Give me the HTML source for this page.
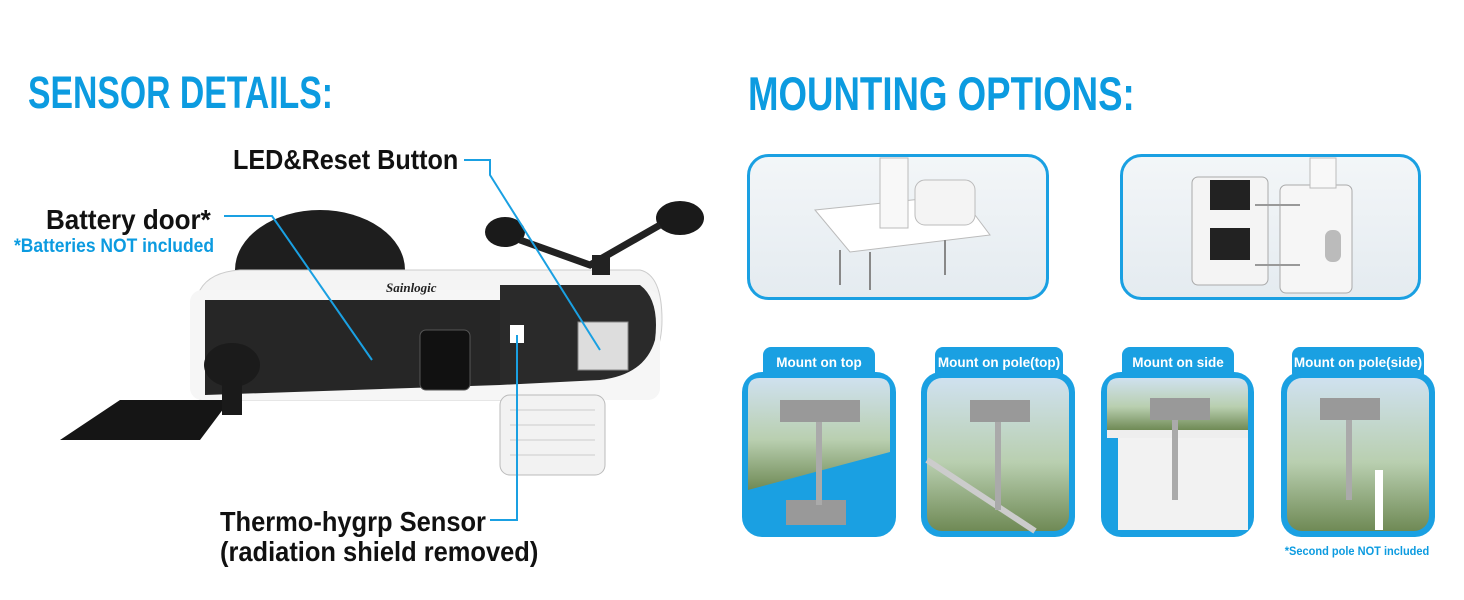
<!DOCTYPE html>
<html><head><meta charset="utf-8"><style>
html,body{margin:0;padding:0;background:#fff;}
svg{display:block;}
.h{font-family:"Liberation Sans",sans-serif;font-weight:bold;fill:#0c9be0;}
.t{font-family:"Liberation Sans",sans-serif;font-weight:bold;fill:#111;}
.w{font-family:"Liberation Sans",sans-serif;font-weight:bold;fill:#fff;}
</style></head><body>
<svg width="1464" height="600" viewBox="0 0 1464 600" xmlns="http://www.w3.org/2000/svg">
<defs>
<linearGradient id="sky" x1="0" y1="0" x2="0" y2="1">
<stop offset="0" stop-color="#cfe1ef"/><stop offset="0.55" stop-color="#b9cfb0"/><stop offset="1" stop-color="#6f8a55"/></linearGradient>
<linearGradient id="box" x1="0" y1="0" x2="0" y2="1"><stop offset="0" stop-color="#f3f6f8"/><stop offset="1" stop-color="#e4ebf0"/></linearGradient>
</defs>
<text class="h" x="28" y="108" font-size="45" transform="translate(28 0) scale(0.75 1) translate(-28 0)">SENSOR DETAILS:</text>
<text class="h" x="748" y="110" font-size="47" transform="translate(748 0) scale(0.78 1) translate(-748 0)">MOUNTING OPTIONS:</text>
<text class="t" x="233" y="169" font-size="28" transform="translate(233 0) scale(0.9 1) translate(-233 0)">LED&amp;Reset Button</text>
<text class="t" x="46" y="229" font-size="28" transform="translate(46 0) scale(0.93 1) translate(-46 0)">Battery door*</text>
<text class="h" x="14" y="252" font-size="19" transform="translate(14 0) scale(0.92 1) translate(-14 0)">*Batteries NOT included</text>
<text class="t" x="220" y="531" font-size="28" transform="translate(220 0) scale(0.91 1) translate(-220 0)">Thermo-hygrp Sensor</text>
<text class="t" x="220" y="561" font-size="28" transform="translate(220 0) scale(0.91 1) translate(-220 0)">(radiation shield removed)</text>
<!-- device -->
<ellipse cx="320" cy="270" rx="85" ry="60" fill="#1e1e1e"/>
<path d="M200 290 Q210 272 240 270 L640 270 Q662 275 662 320 Q662 370 620 380 L560 400 L200 400 Z" fill="#f4f4f4" stroke="#ccc"/>
<rect x="190" y="290" width="470" height="110" rx="12" fill="#f6f6f6"/>
<path d="M205 300 L500 300 L500 385 L205 395 Z" fill="#262626"/>
<path d="M500 285 L640 285 Q660 300 655 340 Q645 375 600 380 L500 385 Z" fill="#2a2a2a"/>
<text x="386" y="292" font-family="Liberation Serif,serif" font-style="italic" font-weight="bold" font-size="13" fill="#222">Sainlogic</text>
<rect x="420" y="330" width="50" height="60" rx="6" fill="#111" stroke="#555"/>
<rect x="510" y="325" width="14" height="18" fill="#fff"/>
<rect x="578" y="322" width="50" height="48" fill="#ddd" stroke="#888"/>
<path d="M60 440 L120 400 L230 400 L200 440 Z" fill="#151515"/>
<ellipse cx="232" cy="365" rx="28" ry="22" fill="#1b1b1b"/>
<rect x="222" y="380" width="20" height="35" fill="#1a1a1a"/>
<ellipse cx="505" cy="232" rx="20" ry="15" fill="#1a1a1a"/>
<ellipse cx="680" cy="218" rx="24" ry="17" fill="#1a1a1a"/>
<path d="M520 240 L590 265 L660 225" stroke="#222" stroke-width="7" fill="none"/>
<rect x="592" y="255" width="18" height="20" fill="#222"/>
<rect x="500" y="395" width="105" height="80" rx="10" fill="#f2f2f2" stroke="#bbb"/>
<path d="M510 410 H595 M510 425 H595 M510 440 H595 M510 455 H595" stroke="#ccc"/>
<g stroke="#1aa0e2" stroke-width="2" fill="none">
<polyline points="464,160 490,160 490,175 600,350"/>
<polyline points="224,216 272,216 372,360"/>
<polyline points="490,520 517,520 517,335"/>
</g>
<rect x="748.5" y="155.5" width="299" height="143" rx="20" fill="url(#box)" stroke="#1aa0e2" stroke-width="3"/>
<rect x="1121.5" y="155.5" width="298" height="143" rx="20" fill="url(#box)" stroke="#1aa0e2" stroke-width="3"/>
<path d="M815 210 L960 195 L990 235 L850 252 Z" fill="#fff" stroke="#bbb"/>
<rect x="880" y="158" width="28" height="70" fill="#f8f8f8" stroke="#bbb"/>
<rect x="915" y="180" width="60" height="45" rx="10" fill="#f4f4f4" stroke="#bbb"/>
<path d="M840 250 V285 M870 252 V290 M945 240 V275" stroke="#888" stroke-width="2"/>
<rect x="1192" y="177" width="76" height="108" rx="6" fill="#f4f4f4" stroke="#aaa"/>
<rect x="1210" y="180" width="40" height="30" fill="#222"/><rect x="1210" y="228" width="40" height="32" fill="#222"/>
<rect x="1280" y="185" width="72" height="108" rx="6" fill="#f6f6f6" stroke="#aaa"/>
<rect x="1310" y="158" width="26" height="30" fill="#f8f8f8" stroke="#bbb"/>
<rect x="1325" y="230" width="16" height="32" rx="7" fill="#bbb"/>
<path d="M1255 205 H1300 M1255 265 H1300" stroke="#999" stroke-width="2"/>
<g>
<rect x="763" y="347" width="112" height="34" rx="8" fill="#1aa0e2"/>
<rect x="742" y="372" width="154" height="165" rx="20" fill="#1aa0e2"/>
<path d="M748 390 Q748 378 760 378 L878 378 Q890 378 890 390 L890 452 L748 490 Z" fill="url(#sky)"/>
<rect x="786" y="500" width="60" height="25" fill="#999"/>
<rect x="816" y="420" width="6" height="85" fill="#aaa"/>
<rect x="780" y="400" width="80" height="22" fill="#999"/>
<text class="w" x="819" y="367" font-size="13.5" text-anchor="middle">Mount on top</text>
</g>
<g>
<rect x="935" y="347" width="128" height="34" rx="8" fill="#1aa0e2"/>
<rect x="921" y="372" width="154" height="165" rx="20" fill="#1aa0e2"/>
<rect x="927" y="378" width="142" height="153" rx="15" fill="url(#sky)"/>
<path d="M927 460 L1035 531" stroke="#ccc" stroke-width="6"/>
<rect x="995" y="420" width="6" height="90" fill="#aaa"/>
<rect x="970" y="400" width="60" height="22" fill="#999"/>
<text class="w" x="999" y="367" font-size="13.5" text-anchor="middle">Mount on pole(top)</text>
</g>
<g>
<rect x="1122" y="347" width="112" height="34" rx="8" fill="#1aa0e2"/>
<rect x="1101" y="372" width="153" height="165" rx="20" fill="#1aa0e2"/>
<path d="M1107 390 Q1107 378 1119 378 L1236 378 Q1248 378 1248 390 L1248 430 L1107 430 Z" fill="url(#sky)"/>
<rect x="1107" y="430" width="141" height="8" fill="#eee"/>
<rect x="1118" y="438" width="130" height="92" fill="#f2f2f2"/>
<rect x="1172" y="420" width="6" height="80" fill="#aaa"/>
<rect x="1150" y="398" width="60" height="22" fill="#999"/>
<text class="w" x="1178" y="367" font-size="13.5" text-anchor="middle">Mount on side</text>
</g>
<g>
<rect x="1292" y="347" width="132" height="34" rx="8" fill="#1aa0e2"/>
<rect x="1281" y="372" width="154" height="165" rx="20" fill="#1aa0e2"/>
<rect x="1287" y="378" width="142" height="153" rx="15" fill="url(#sky)"/>
<rect x="1346" y="420" width="6" height="80" fill="#aaa"/>
<rect x="1375" y="470" width="8" height="60" fill="#fff"/>
<rect x="1320" y="398" width="60" height="22" fill="#999"/>
<text class="w" x="1358" y="367" font-size="13.5" text-anchor="middle">Mount on pole(side)</text>
</g>
<text class="h" x="1357" y="555" font-size="12" text-anchor="middle" transform="translate(1357 0) scale(0.92 1) translate(-1357 0)">*Second pole NOT included</text>
</svg>
</body></html>
